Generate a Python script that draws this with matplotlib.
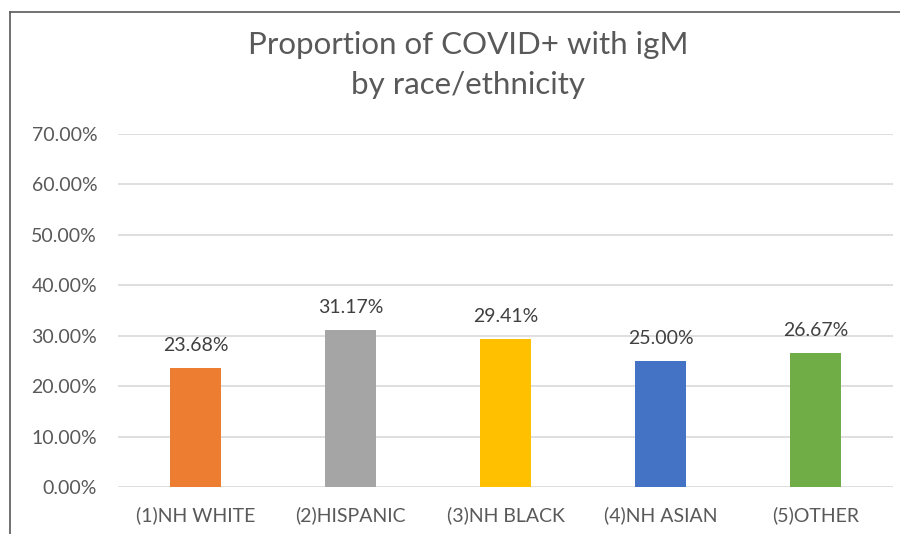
import matplotlib
matplotlib.use("Agg")
import matplotlib.pyplot as plt
from matplotlib.lines import Line2D

categories = ["(1)NH WHITE", "(2)HISPANIC", "(3)NH BLACK", "(4)NH ASIAN", "(5)OTHER"]
values = [23.68, 31.17, 29.41, 25.00, 26.67]
colors = ["#ED7D31", "#A5A5A5", "#FFC000", "#4472C4", "#70AD47"]
yticks = [0, 10, 20, 30, 40, 50, 60, 70]

plt.rcParams['font.family'] = ['Lato', 'DejaVu Sans']
txt = "#595959"

fig = plt.figure(figsize=(9, 5.34), dpi=100)
W, H = 900, 534
ax = fig.add_axes([118 / W, 1 - 487 / H, (893 - 118) / W, (487 - 134) / H])

x = list(range(len(categories)))
ax.bar(x, values, width=0.33, color=colors, zorder=3)
for xi, v in zip(x, values):
    ax.annotate(f"{v:.2f}%", (xi, v), xytext=(0, 10), textcoords="offset points",
                ha="center", va="bottom", fontsize=14, color="#404040")

ax.set_xlim(-0.5, len(categories) - 0.5)
ax.set_ylim(0, 70)
ax.set_yticks(yticks)
ax.set_yticklabels([f"{t:.2f}%" for t in yticks], fontsize=14, color=txt)
ax.set_xticks(x)
ax.set_xticklabels(categories, fontsize=14, color=txt)
ax.tick_params(axis="both", length=0)
ax.tick_params(axis="y", pad=15)
ax.tick_params(axis="x", pad=14)
ax.grid(axis="y", color="#D9D9D9", linewidth=1.2, zorder=0)
for s in ax.spines.values():
    s.set_visible(False)

fig.text(468 / W, 1 - 45 / H, "Proportion of COVID+ with igM", ha="center", va="center",
         fontsize=22.5, color=txt)
fig.text(468 / W, 1 - 85 / H, "by race/ethnicity", ha="center", va="center",
         fontsize=22.5, color=txt)

# outer border (left and top)
fig.add_artist(Line2D([10 / W, 10 / W], [0, 1 - 12 / H], color="#595959", lw=1.2,
                      transform=fig.transFigure))
fig.add_artist(Line2D([10 / W, 1], [1 - 12 / H, 1 - 12 / H], color="#595959", lw=1.2,
                      transform=fig.transFigure))

fig.savefig("out.png", dpi=100)
